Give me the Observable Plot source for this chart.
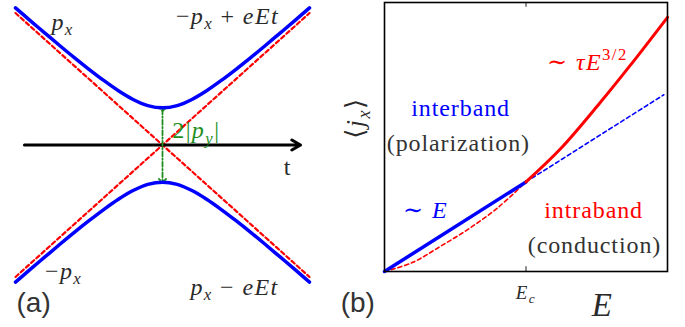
<!DOCTYPE html>
<html>
<head>
<meta charset="utf-8">
<script src="https://cdn.jsdelivr.net/npm/d3@7"></script>
<script src="https://cdn.jsdelivr.net/npm/@observablehq/plot@0.6"></script>
<style>
  body { margin: 0; background: #fff; }
  #wrap { position: relative; width: 685px; height: 327px; overflow: hidden; }
  #panelA, #panelB { position: absolute; top: 0; }
  #panelA { left: 0; }
  #panelB { left: 330px; }
  svg text { white-space: pre; }
</style>
</head>
<body>
<div id="wrap"><div id="panelA"></div><div id="panelB"></div></div>
<script>
// ---------------- Panel (a): band energies vs time ----------------
const tGrid     = [-1, -0.9, -0.8, -0.7, -0.6, -0.5, -0.4, -0.3, -0.2, -0.1, 0, 0.1, 0.2, 0.3, 0.4, 0.5, 0.6, 0.7, 0.8, 0.9, 1];
const upperBand = [0.960, 0.871, 0.784, 0.697, 0.612, 0.530, 0.452, 0.380, 0.319, 0.276, 0.260, 0.276, 0.319, 0.380, 0.452, 0.530, 0.612, 0.697, 0.784, 0.871, 0.960];
const lowerBand = [-0.960, -0.871, -0.784, -0.697, -0.612, -0.530, -0.452, -0.380, -0.319, -0.276, -0.260, -0.276, -0.319, -0.380, -0.452, -0.530, -0.612, -0.697, -0.784, -0.871, -0.960];
const asymT       = [-1, 1];
const asymRising  = [-0.924, 0.924];
const asymFalling = [0.924, -0.924];
const timeAxisT   = [-0.939, 0.939];
const gapT        = [0, 0];
const gapEnds     = [0.25, -0.25];
const labelsA  = ["$p_x$", "$−p_x + eEt$", "$−p_x$", "$p_x − eEt$", "t"];
const labelsAX = [-0.68, 0.442, -0.673, 0.49, 0.85];
const labelsAY = [0.858, 0.90, -0.886, -0.998, -0.158];
const gapLabel = ["$2|p_y|$"];
const gapLabelX = [0.23];
const gapLabelY = [0.10];
const tagA = ["(a)"];
const tagAX = [-0.993];
const tagAY = [-1.11];

// ---------------- Panel (b): current vs field ----------------
const Ec = 0.5;
const linearE   = [0, 0.5];
const linearJ   = [0, 0.333];
const linearExtE = [0.5, 0.987];
const linearExtJ = [0.333, 0.657];
const intraLowE = [0, 0.1, 0.2, 0.3, 0.4, 0.5];
const intraLowJ = [0, 0.034, 0.095, 0.16, 0.237, 0.333];
const intraHighE = [0.5, 0.622, 0.763, 0.869, 1.0];
const intraHighJ = [0.333, 0.456, 0.629, 0.767, 0.945];
const labelsB  = ["interband", "(polarization)", "$∼ E$", "$∼ τE^{3/2}$", "intraband", "(conduction)"];
const labelsBX = [0.269, 0.261, 0.145, 0.717, 0.739, 0.742];
const labelsBY = [0.606, 0.476, 0.227, 0.777, 0.227, 0.097];
const labelsBColor = ["blue", "gray", "blue", "red", "red", "gray"];
const tickLabelB = ["$E_c$"];
const xTitleB = ["$E$"];
const yTitleB = ["$⟨j_x⟩$"];
const tagB = ["(b)"];

const BLUE = "#0000ff", RED = "#ff0000", GREEN = "#1e8f1e", DARK = "#2a2a2a";
const colorMap = {blue: BLUE, red: RED, gray: "#333333"};
const SERIF = "'Liberation Serif', 'DejaVu Serif', serif";
const SANS = "'Liberation Sans', Arial, sans-serif";

const bandA = tGrid.map((t, i) => ({t, up: upperBand[i], lo: lowerBand[i]}));
const asymA = asymT.map((t, i) => ({t, r: asymRising[i], f: asymFalling[i]}));
const gapA = gapT.map((t, i) => ({t, e: gapEnds[i]}));
const axisA = [{x1: timeAxisT[0], x2: timeAxisT[1], y1: 0, y2: 0}];
const txtA = labelsA.map((s, i) => ({s, x: labelsAX[i], y: labelsAY[i]}));

const plotA = Plot.plot({
  width: 330, height: 327,
  marginLeft: 15, marginRight: 21, marginTop: 1.7, marginBottom: 39.7,
  x: {domain: [-1, 1], axis: null},
  y: {domain: [-1, 1], axis: null},
  style: {background: "transparent", overflow: "visible"},
  marks: [
    Plot.line(asymA, {x: "t", y: "r", stroke: RED, strokeWidth: 2.2, strokeDasharray: "4,3"}),
    Plot.line(asymA, {x: "t", y: "f", stroke: RED, strokeWidth: 2.2, strokeDasharray: "4,3"}),
    Plot.arrow(axisA, {x1: "x1", y1: "y1", x2: "x2", y2: "y2", stroke: "black", strokeWidth: 3, headLength: 5, headAngle: 60}),
    Plot.line(gapA, {x: "t", y: "e", stroke: GREEN, strokeWidth: 1.8, strokeDasharray: "5,2,1.5,2", markerStart: "arrow", markerEnd: "arrow"}),
    Plot.line(bandA, {x: "t", y: "up", curve: "catmull-rom", stroke: BLUE, strokeWidth: 3.5}),
    Plot.line(bandA, {x: "t", y: "lo", curve: "catmull-rom", stroke: BLUE, strokeWidth: 3.5}),
    Plot.text(txtA, {x: "x", y: "y", text: "s", fill: DARK, fontSize: 24}),
    Plot.text(gapLabel, {x: () => gapLabelX[0], y: () => gapLabelY[0], text: d => d, fill: GREEN, fontSize: 24}),
    Plot.text(tagA, {x: () => tagAX[0], y: () => tagAY[0], text: d => d, textAnchor: "start", fill: "#333", fontSize: 28})
  ]
});

const linB = linearE.map((e, i) => ({e, j: linearJ[i]}));
const linExtB = linearExtE.map((e, i) => ({e, j: linearExtJ[i]}));
const lowB = intraLowE.map((e, i) => ({e, j: intraLowJ[i]}));
const highB = intraHighE.map((e, i) => ({e, j: intraHighJ[i]}));
const txtB = labelsB.map((s, i) => ({s, x: labelsBX[i], y: labelsBY[i], c: colorMap[labelsBColor[i]]}));

const plotB = Plot.plot({
  width: 355, height: 327,
  marginLeft: 54, marginRight: 18, marginTop: 2, marginBottom: 56,
  x: {domain: [0, 1], axis: null},
  y: {domain: [0, 1], axis: null},
  style: {background: "transparent", overflow: "visible"},
  marks: [
    Plot.ruleX([Ec], {y1: 0, y2: 0.018, stroke: "#444", strokeWidth: 1.2}),
    Plot.ruleX([Ec], {y1: 0.982, y2: 1, stroke: "#444", strokeWidth: 1.2}),
    Plot.line(lowB, {x: "e", y: "j", curve: "catmull-rom", stroke: RED, strokeWidth: 1.6, strokeDasharray: "4,3"}),
    Plot.line(linExtB, {x: "e", y: "j", stroke: BLUE, strokeWidth: 1.6, strokeDasharray: "4,3"}),
    Plot.line(linB, {x: "e", y: "j", stroke: BLUE, strokeWidth: 3.5}),
    Plot.line(highB, {x: "e", y: "j", curve: "catmull-rom", stroke: RED, strokeWidth: 3}),
    Plot.frame({stroke: "black", strokeWidth: 1.6}),
    Plot.text(txtB, {x: "x", y: "y", text: "s", fill: "c", fontSize: 24}),
    Plot.text(tickLabelB, {x: () => Ec, y: () => -0.078, text: d => d, fill: DARK, fontSize: 19}),
    Plot.text(xTitleB, {x: () => 0.77, y: () => -0.125, text: d => d, fill: DARK, fontSize: 33}),
    Plot.text(yTitleB, {x: () => -0.102, y: () => 0.57, text: d => d, rotate: -90, fill: DARK, fontSize: 26}),
    Plot.text(tagB, {x: () => -0.155, y: () => -0.119, text: d => d, textAnchor: "start", fill: "#333", fontSize: 28})
  ]
});

document.getElementById("panelA").appendChild(plotA);
document.getElementById("panelB").appendChild(plotB);

// --- minimal TeX-like markup: $...$ math, letters italic, _x / ^{..} scripts ---
function parseMarkup(s) {
  const runs = [];
  let math = false, i = 0;
  const push = (text, italic, level) => {
    const last = runs[runs.length - 1];
    if (last && last.italic === italic && last.level === level) last.text += text;
    else runs.push({text, italic, level});
  };
  const isLetter = c => /[A-Za-zα-ωτ]/.test(c);
  while (i < s.length) {
    const c = s[i];
    if (c === "$") { math = !math; i++; continue; }
    if (math && (c === "_" || c === "^")) {
      const level = c === "_" ? -1 : 1;
      i++;
      let tok;
      if (s[i] === "{") { const j = s.indexOf("}", i); tok = s.slice(i + 1, j); i = j + 1; }
      else { tok = s[i]; i++; }
      for (const ch of tok) push(ch, isLetter(ch), level);
      continue;
    }
    push(c, math && isLetter(c), 0);
    i++;
  }
  return runs;
}
function richify(svg) {
  const ns = "http://www.w3.org/2000/svg";
  svg.querySelectorAll("text").forEach(el => {
    const s = el.textContent;
    const isTag = /^\([ab]\)$/.test(s);
    el.setAttribute("font-family", isTag ? SANS : SERIF);
    el.style.setProperty("font-family", isTag ? SANS : SERIF, "important");
    if (!isTag) el.style.letterSpacing = s.includes("$") ? "1.4px" : "0.9px";
    if (!s.includes("$")) return;
    const fs = parseFloat(getComputedStyle(el).fontSize) || 24;
    el.textContent = "";
    let cur = 0;
    for (const r of parseMarkup(s)) {
      const ts = document.createElementNS(ns, "tspan");
      ts.textContent = r.text;
      if (r.italic) ts.setAttribute("font-style", "italic");
      let target = 0;
      if (r.level === -1) { ts.setAttribute("font-size", (fs * 0.7).toFixed(1)); target = fs * 0.22; }
      if (r.level === 1) { ts.setAttribute("font-size", (fs * 0.7).toFixed(1)); target = -fs * 0.42; }
      const dy = target - cur;
      if (dy !== 0) ts.setAttribute("dy", dy.toFixed(2));
      cur = target;
      el.appendChild(ts);
    }
  });
}
richify(plotA);
richify(plotB);
</script>
</body>
</html>
